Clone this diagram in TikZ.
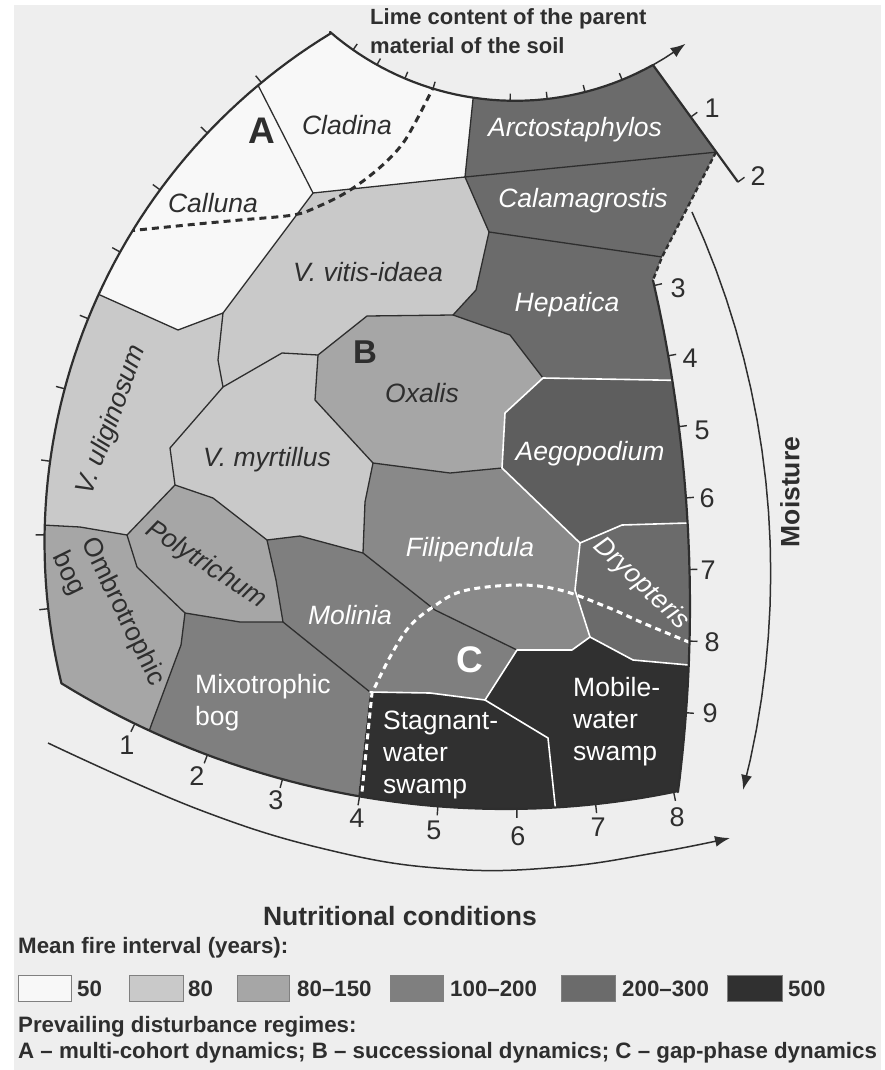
\documentclass[tikz,border=0pt]{standalone}
\usepackage{fontspec}
\setmainfont{Liberation Sans}
\usetikzlibrary{arrows.meta}
\definecolor{pagebg}{HTML}{EEEEEE}
\definecolor{inkc}{HTML}{2E2E2E}
\definecolor{cfifty}{HTML}{F8F8F8}
\definecolor{ceighty}{HTML}{C9C9C9}
\definecolor{cmid}{HTML}{A6A6A6}
\definecolor{conetwo}{HTML}{7F7F7F}
\definecolor{ctwothree}{HTML}{6B6B6B}
\definecolor{cfive}{HTML}{303030}
\colorlet{aegc}{ctwothree!88!black}
\colorlet{filc}{conetwo!92!white}
\tikzset{
  edge/.style={draw=inkc, line width=1.3pt, line join=round, line cap=round},
  wedge/.style={draw=white, line width=1.6pt, line join=round, line cap=round},
  rim/.style={draw=inkc, line width=2.2pt, line join=round},
  tickl/.style={draw=inkc, line width=1.4pt},
  axarrow/.style={draw=inkc, line width=1.5pt, -{Latex[length=15pt,width=11pt]}},
  dlab/.style={inner sep=0pt, text=inkc, font=\fontsize{26.5}{32}\selectfont\itshape},
  dup/.style={inner sep=0pt, text=inkc, font=\fontsize{26.5}{32}\selectfont},
  wlab/.style={inner sep=0pt, text=white, font=\fontsize{26.5}{32}\selectfont\itshape},
  wup/.style={inner sep=0pt, text=white, font=\fontsize{26.5}{32}\selectfont, align=left, anchor=west},
  numl/.style={inner sep=0pt, text=inkc, font=\fontsize{27}{30}\selectfont},
  bigl/.style={inner sep=0pt, font=\fontsize{37}{40}\selectfont\bfseries},
  axt/.style={inner sep=0pt, text=inkc, font=\fontsize{26.5}{30}\selectfont\bfseries},
  limet/.style={inner sep=0pt, text=inkc, font=\fontsize{22}{29}\selectfont\bfseries, align=left, anchor=west},
  legt/.style={inner sep=0pt, text=inkc, font=\fontsize{22.3}{26}\selectfont\bfseries, anchor=west},
  legbox/.style={draw=black!50, line width=1pt},
  blkdash/.style={draw=inkc, line width=3pt, dash pattern=on 7pt off 5pt},
  whtdash/.style={draw=white, line width=3pt, dash pattern=on 6pt off 4.5pt},
}
\begin{document}
\begin{tikzpicture}[x=1pt,y=-1pt]
\useasboundingbox (0,0) rectangle (885,1070);
\fill[white] (0,0) rectangle (885,1070);
\fill[pagebg] (14,5) rectangle (881,1070);

% ---- vertices
\coordinate (P1) at (258,85);
\coordinate (P1e) at (236,42);
\coordinate (P2) at (313,193);
\coordinate (P3) at (465,177);
\coordinate (P4) at (473,98);
\coordinate (P4e) at (477,60);
\coordinate (TLe) at (330,0);
\coordinate (TRe) at (653,50);
\coordinate (TRf) at (760,140);
\coordinate (A1) at (716,152);
\coordinate (A1e) at (748,149);
\coordinate (A2) at (662,257);
\coordinate (A2e) at (714,264.5);
\coordinate (A3) at (653,280);
\coordinate (Q1) at (100,295);
\coordinate (Q1e) at (53,274);
\coordinate (Q2) at (178,330);
\coordinate (Q3) at (223,313);
\coordinate (R1) at (489,232);
\coordinate (R2) at (476,290);
\coordinate (R3) at (453,315);
\coordinate (R4) at (367,316);
\coordinate (R5) at (318,355);
\coordinate (R6) at (282,353);
\coordinate (R7) at (223,387);
\coordinate (R8) at (218,360);
\coordinate (H1) at (672,380);
\coordinate (H1e) at (712,381);
\coordinate (H2) at (543,378);
\coordinate (H3) at (510,335);
\coordinate (G1) at (505,413);
\coordinate (G2) at (502,468);
\coordinate (O1) at (450,473);
\coordinate (O2) at (373,463);
\coordinate (O3) at (315,400);
\coordinate (F1) at (365,502);
\coordinate (M1) at (363,553);
\coordinate (M2) at (300,536);
\coordinate (M3) at (267,540);
\coordinate (Y1) at (213,498);
\coordinate (Y2) at (175,485);
\coordinate (Y3) at (170,448);
\coordinate (U1) at (127,535);
\coordinate (U2) at (80,527);
\coordinate (U3) at (42,525);
\coordinate (U3e) at (4,523);
\coordinate (W1) at (137,567);
\coordinate (W2) at (185,613);
\coordinate (W2b) at (181,645);
\coordinate (W3) at (152,723);
\coordinate (W3e) at (137,765);
\coordinate (BLe) at (25,705);
\coordinate (T1) at (283,622);
\coordinate (T2) at (240,622);
\coordinate (T3) at (276,580);
\coordinate (S1) at (485,700);
\coordinate (S2) at (430,693);
\coordinate (S3) at (370,692);
\coordinate (S4) at (548,738);
\coordinate (S5) at (555,807);
\coordinate (S5e) at (559,842);
\coordinate (S6) at (358,797);
\coordinate (S6e) at (353,839);
\coordinate (K1) at (435,610);
\coordinate (K2) at (517,650);
\coordinate (L1) at (572,650);
\coordinate (L2) at (590,637);
\coordinate (L3) at (633,660);
\coordinate (L4) at (688,665);
\coordinate (L4e) at (722,668);
\coordinate (BRe) at (720,835);
\coordinate (D1) at (687,523);
\coordinate (D1e) at (720,522);
\coordinate (D2) at (622,525);
\coordinate (D3) at (580,543);
\coordinate (D4) at (575,590);

\begin{scope}
\clip (330,32)
  -- plot[domain=130.8:60.87, samples=40, variable=\t] ({515.1+283.2*cos(\t)},{-182.4+283.2*sin(\t)})
  -- (A1) -- (A2) -- (A3)
  -- plot[domain=-12.97:7.38, samples=40, variable=\t] ({-761+1451*cos(\t)},{605.7+1451*sin(\t)})
  -- plot[domain=78.21:121.55, samples=50, variable=\t] ({505+846*cos(\t)},{-37+846*sin(\t)})
  -- plot[domain=166.33:238.69, samples=60, variable=\t] ({640.5+596*cos(\t)},{542.5+596*sin(\t)})
  -- cycle;
% fills
\fill[cfifty] (P2) -- (P1) -- (P1e) -- (Q1e) -- (Q1) -- (Q2) -- (Q3) -- cycle;
\fill[cfifty] (P1) -- (P1e) -- (TLe) -- (P4e) -- (P4) -- (P3) -- (P2) -- cycle;
\fill[ctwothree] (P4) -- (P4e) -- (TRe) -- (TRf) -- (A1e) -- (P3) -- cycle;
\fill[ctwothree] (P3) -- (A1e) -- (A2e) -- (A2) -- (R1) -- cycle;
\fill[ctwothree] (R1) -- (A2) -- (A2e) -- (H1e) -- (H1) -- (H2) -- (H3) -- (R3) -- (R2) -- cycle;
\fill[ceighty] (P2) -- (P3) -- (R1) -- (R2) -- (R3) -- (R4) -- (R5) -- (R6) -- (R7) -- (R8) -- (Q3) -- cycle;
\fill[ceighty] (Q1e) -- (Q1) -- (Q2) -- (Q3) -- (R8) -- (R7) -- (Y3) -- (Y2) -- (U1) -- (U2) -- (U3) -- (U3e) -- cycle;
\fill[ceighty] (R7) -- (R6) -- (R5) -- (O3) -- (O2) -- (F1) -- (M1) -- (M2) -- (M3) -- (Y1) -- (Y2) -- (Y3) -- cycle;
\fill[cmid] (R3) -- (H3) -- (H2) -- (G1) -- (G2) -- (O1) -- (O2) -- (O3) -- (R5) -- (R4) -- cycle;
\fill[cmid] (Y2) -- (Y1) -- (M3) -- (T3) -- (T1) -- (T2) -- (W2) -- (W1) -- (U1) -- cycle;
\fill[cmid] (U3e) -- (U3) -- (U2) -- (U1) -- (W1) -- (W2) -- (W2b) -- (W3) -- (W3e) -- (BLe) -- cycle;
\fill[aegc] (H2) -- (H1) -- (H1e) -- (D1e) -- (D1) -- (D2) -- (D3) -- (G2) -- (G1) -- cycle;
\fill[ctwothree] (D3) -- (D2) -- (D1) -- (D1e) -- (L4e) -- (L4) -- (L3) -- (L2) -- (D4) -- cycle;
\fill[filc] (O2) -- (O1) -- (G2) -- (D3) -- (D4) -- (L2) -- (L1) -- (K2) -- (K1) -- (M1) -- (F1) -- cycle;
\fill[conetwo] (M3) -- (M2) -- (M1) -- (K1) -- (K2) -- (S1) -- (S2) -- (S3) -- (T1) -- (T3) -- cycle;
\fill[conetwo] (W2) -- (T2) -- (T1) -- (S3) -- (S6) -- (S6e) -- (W3e) -- (W3) -- (W2b) -- cycle;
\fill[cfive] (S3) -- (S2) -- (S1) -- (S4) -- (S5) -- (S5e) -- (S6e) -- (S6) -- cycle;
\fill[cfive] (K2) -- (L1) -- (L2) -- (L3) -- (L4) -- (L4e) -- (BRe) -- (S5e) -- (S5) -- (S4) -- (S1) -- cycle;
% black edges
\draw[edge] (P1e) -- (P2) -- (P3) -- (P4e);
\draw[edge] (P3) -- (A1e);
\draw[edge] (P3) -- (R1) -- (A2e);
\draw[edge] (R1) -- (R2) -- (R3) -- (R4) -- (R5) -- (R6) -- (R7) -- (R8) -- (Q3) -- (P2);
\draw[edge] (Q1e) -- (Q1) -- (Q2) -- (Q3);
\draw[edge] (R3) -- (H3) -- (H2);
\draw[edge] (R5) -- (O3) -- (O2) -- (O1) -- (G2);
\draw[edge] (O2) -- (F1) -- (M1) -- (M2) -- (M3) -- (Y1) -- (Y2) -- (Y3) -- (R7);
\draw[edge] (Y2) -- (U1) -- (U2) -- (U3e);
\draw[edge] (U1) -- (W1) -- (W2) -- (W2b) -- (W3) -- (W3e);
\draw[edge] (W2) -- (T2) -- (T1) -- (T3) -- (M3);
\draw[edge] (T1) -- (S3);
\draw[edge] (M1) -- (K1) -- (K2);
% white edges
\draw[wedge] (H2) -- (H1e);
\draw[wedge] (H2) -- (G1) -- (G2) -- (D3) -- (D2) -- (D1e);
\draw[wedge] (D3) -- (D4) -- (L2) -- (L3) -- (L4e);
\draw[wedge] (L2) -- (L1) -- (K2) -- (S1) -- (S4) -- (S5e);
\draw[wedge] (S3) -- (S2) -- (S1);
% regime boundaries
\draw[blkdash] plot[smooth, tension=0.6] coordinates {(128,231) (187,225) (240,220) (293,215) (317,207) (347,192) (377,170) (400,147) (415,123) (436,82)};
\draw[whtdash] (361,802) -- (372,693) -- plot[smooth, tension=0.6] coordinates {(372,693) (390,657) (409,627) (433,607) (463,591) (517,585) (560,590) (607,607) (643,623) (696,645)};
\end{scope}

% outer rim
\draw[rim] (A3)
  -- plot[domain=-12.97:7.38, samples=40, variable=\t] ({-761+1451*cos(\t)},{605.7+1451*sin(\t)})
  -- plot[domain=78.21:121.55, samples=50, variable=\t] ({505+846*cos(\t)},{-37+846*sin(\t)})
  -- plot[domain=166.33:238.69, samples=60, variable=\t] ({640.5+596*cos(\t)},{542.5+596*sin(\t)})
  -- plot[domain=130.8:60.87, samples=40, variable=\t] ({515.1+283.2*cos(\t)},{-182.4+283.2*sin(\t)})
  -- (738,182);
\draw[inkc, line width=2.4pt, dash pattern=on 5pt off 3pt] (A1) -- (A2) -- (A3);

% ticks
\foreach \a in {230.5,223.39,216.28,209.17,202.06,194.95,187.84,180.73,173.62}
  \draw[tickl] ({640.5+596*cos(\a)},{542.5+596*sin(\a)}) -- ({640.5+605*cos(\a)},{542.5+605*sin(\a)});
\foreach \a in {124.9,119.2,112.9,106.85,91.0,83.5,75.7,67.8}
  \draw[tickl] ({515.1+283.2*cos(\a)},{-182.4+283.2*sin(\a)}) -- ({515.1+276*cos(\a)},{-182.4+276*sin(\a)});
\foreach \a in {115.95,110.6,105.25,99.9,94.55,89.2,83.85,78.5}
  \draw[tickl] ({505+846*cos(\a)},{-37+846*sin(\a)}) -- ({505+855*cos(\a)},{-37+855*sin(\a)});
\foreach \a in {-12.75,-9.92,-7.09,-4.26,-1.43,1.40,4.23}
  \draw[tickl] ({-761+1451*cos(\a)},{605.7+1451*sin(\a)}) -- ({-761+1459*cos(\a)},{605.7+1459*sin(\a)});
\draw[tickl] (690.8,117) -- (697.3,112.3);
\draw[tickl] (738,182) -- (744.5,177.3);

% axis arrows
\draw[axarrow] plot[domain=60.87:53, samples=4, variable=\t] ({515.1+283.2*cos(\t)},{-182.4+283.2*sin(\t)});
\draw[axarrow] plot[domain=-24.6:14.5, samples=20, variable=\t] ({-96.3+867*cos(\t)},{572.9+867*sin(\t)});
\draw[axarrow] plot[smooth, tension=0.7] coordinates {(48,743) (200,810) (333,851) (450,869) (560,867) (660,852) (730,838)};

% axis numbers
\node[numl] (nb1) at (127,745) {1};
\node[numl] (nb2) at (197,776) {2};
\node[numl] (nb3) at (276,800) {3};
\node[numl] (nb4) at (357,818) {4};
\node[numl] (nb5) at (434,830) {5};
\node[numl] (nb6) at (518,836) {6};
\node[numl] (nb7) at (598,827) {7};
\node[numl] (nb8) at (677,817) {8};
\node[numl] (nr1) at (712,108) {1};
\node[numl] (nr2) at (758,176) {2};
\node[numl] (nr3) at (678,288) {3};
\node[numl] (nr4) at (690,358) {4};
\node[numl] (nr5) at (702,430) {5};
\node[numl] (nr6) at (707,498) {6};
\node[numl] (nr7) at (708,570) {7};
\node[numl] (nr8) at (712,642) {8};
\node[numl] (nr9) at (710,713) {9};

% axis titles
\node[limet] (limeT) at (370,31.5) {Lime content of the parent\\material of the soil};
\node[axt, rotate=90] (moistT) at (790,492) {Moisture};
\node[axt] (nutrT) at (400,916) {Nutritional conditions};

% region labels
\node[dlab] (lCladina) at (347,125) {Cladina};
\node[dlab] (lCalluna) at (213,203) {Calluna};
\node[bigl, text=inkc] (lA) at (262,131) {A};
\node[wlab] (lArcto) at (575,130) {Arctostaphylos};
\node[wlab] (lCalam) at (583,201) {Calamagrostis};
\node[wlab] (lHep) at (567,305) {Hepatica};
\node[dlab] (lVit) at (368,272) {V. vitis-idaea};
\node[bigl, text=inkc, font=\fontsize{33}{36}\selectfont\bfseries] (lB) at (365,352) {B};
\node[dlab] (lOx) at (422,393) {Oxalis};
\node[dlab, rotate=70] (lUlig) at (112,420) {V. uliginosum};
\node[dlab] (lMyrt) at (267,460) {V. myrtillus};
\node[wlab] (lAeg) at (590,454) {Aegopodium};
\node[wlab] (lFil) at (470,550) {Filipendula};
\node[wlab, rotate=-43] (lDry) at (641,584) {Dryopteris};
\node[dlab, rotate=-33] (lPoly) at (206,565) {Polytrichum};
\node[dup, align=left, rotate=-64] (lOmb) at (108,619) {Ombrotrophic\\bog};
\node[wlab] (lMol) at (350,615) {Molinia};
\node[wup] (lMix) at (195,703) {Mixotrophic\\bog};
\node[bigl, text=white] (lC) at (470,660) {C};
\node[wup] (lStag) at (383,755) {Stagnant-\\water\\swamp};
\node[wup] (lMob) at (573,722) {Mobile-\\water\\swamp};

% legend
\node[legt] (legTitle) at (18,948) {Mean fire interval (years):};
\draw[legbox, fill=cfifty] (18,975) rectangle (71,1001);
\draw[legbox, fill=ceighty] (129,975) rectangle (183,1001);
\draw[legbox, fill=cmid] (237,975) rectangle (289,1001);
\draw[legbox, fill=conetwo] (390,975) rectangle (443,1001);
\draw[legbox, fill=ctwothree] (561,975) rectangle (615,1001);
\draw[legbox, fill=cfive] (727,975) rectangle (782,1001);
\node[legt] (lg1) at (77,989) {50};
\node[legt] (lg2) at (188,989) {80};
\node[legt] (lg3) at (297,989) {80–150};
\node[legt] (lg4) at (450,989) {100–200};
\node[legt] (lg5) at (622,989) {200–300};
\node[legt] (lg6) at (788,989) {500};
\node[legt] (regT) at (18,1027) {Prevailing disturbance regimes:};
\node[legt] (regL) at (18,1053) {A – multi-cohort dynamics; B – successional dynamics; C – gap-phase dynamics};
\end{tikzpicture}
\end{document}
